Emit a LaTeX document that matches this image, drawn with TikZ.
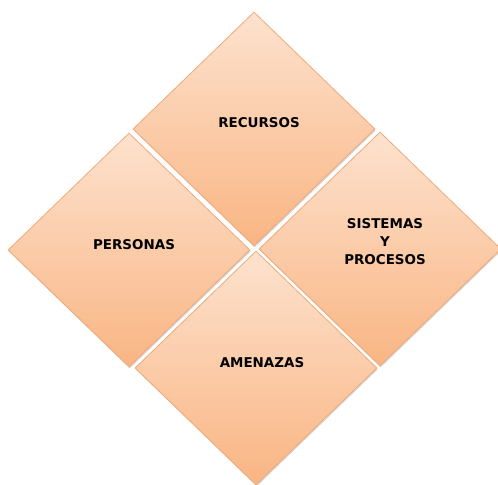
\documentclass[tikz,border=0pt]{standalone}
\usepackage{fontspec}
\setmainfont{DejaVu Sans}
\usetikzlibrary{shapes.geometric,shadows}
\definecolor{tiletop}{HTML}{FDE2CE}
\definecolor{tilebot}{HTML}{F9B583}
\definecolor{tileedge}{HTML}{EFAA78}
\begin{document}
\begin{tikzpicture}[x=1bp,y=-1bp,
    tile/.style={diamond,draw=tileedge,line width=0.8bp,inner sep=0pt,
      minimum width=242bp,minimum height=234bp,
      top color=tiletop,bottom color=tilebot,
      drop shadow={shadow xshift=0.8bp,shadow yshift=-1.5bp,opacity=.35,fill=black!45}},
    lbl/.style={font=\fontsize{13.5}{18}\selectfont\bfseries,align=center,text=black}]
    \useasboundingbox (0,0) rectangle (498,485);
    \node[tile] (rec) at (254,129) {};
    \node[tile] (per) at (129,250) {};
    \node[tile] (sis) at (380,249) {};
    \node[tile] (ame) at (256,368) {};
    \node[lbl] (rec-t) at ([shift={(5,-6)}]rec.center) {RECURSOS};
    \node[lbl] (per-t) at ([shift={(5,-5)}]per.center) {PERSONAS};
    \node[lbl] (sis-t) at ([shift={(5,-7)}]sis.center) {SISTEMAS\\Y\\PROCESOS};
    \node[lbl] (ame-t) at ([shift={(6,-5)}]ame.center) {AMENAZAS};
  \end{tikzpicture}
\end{document}
